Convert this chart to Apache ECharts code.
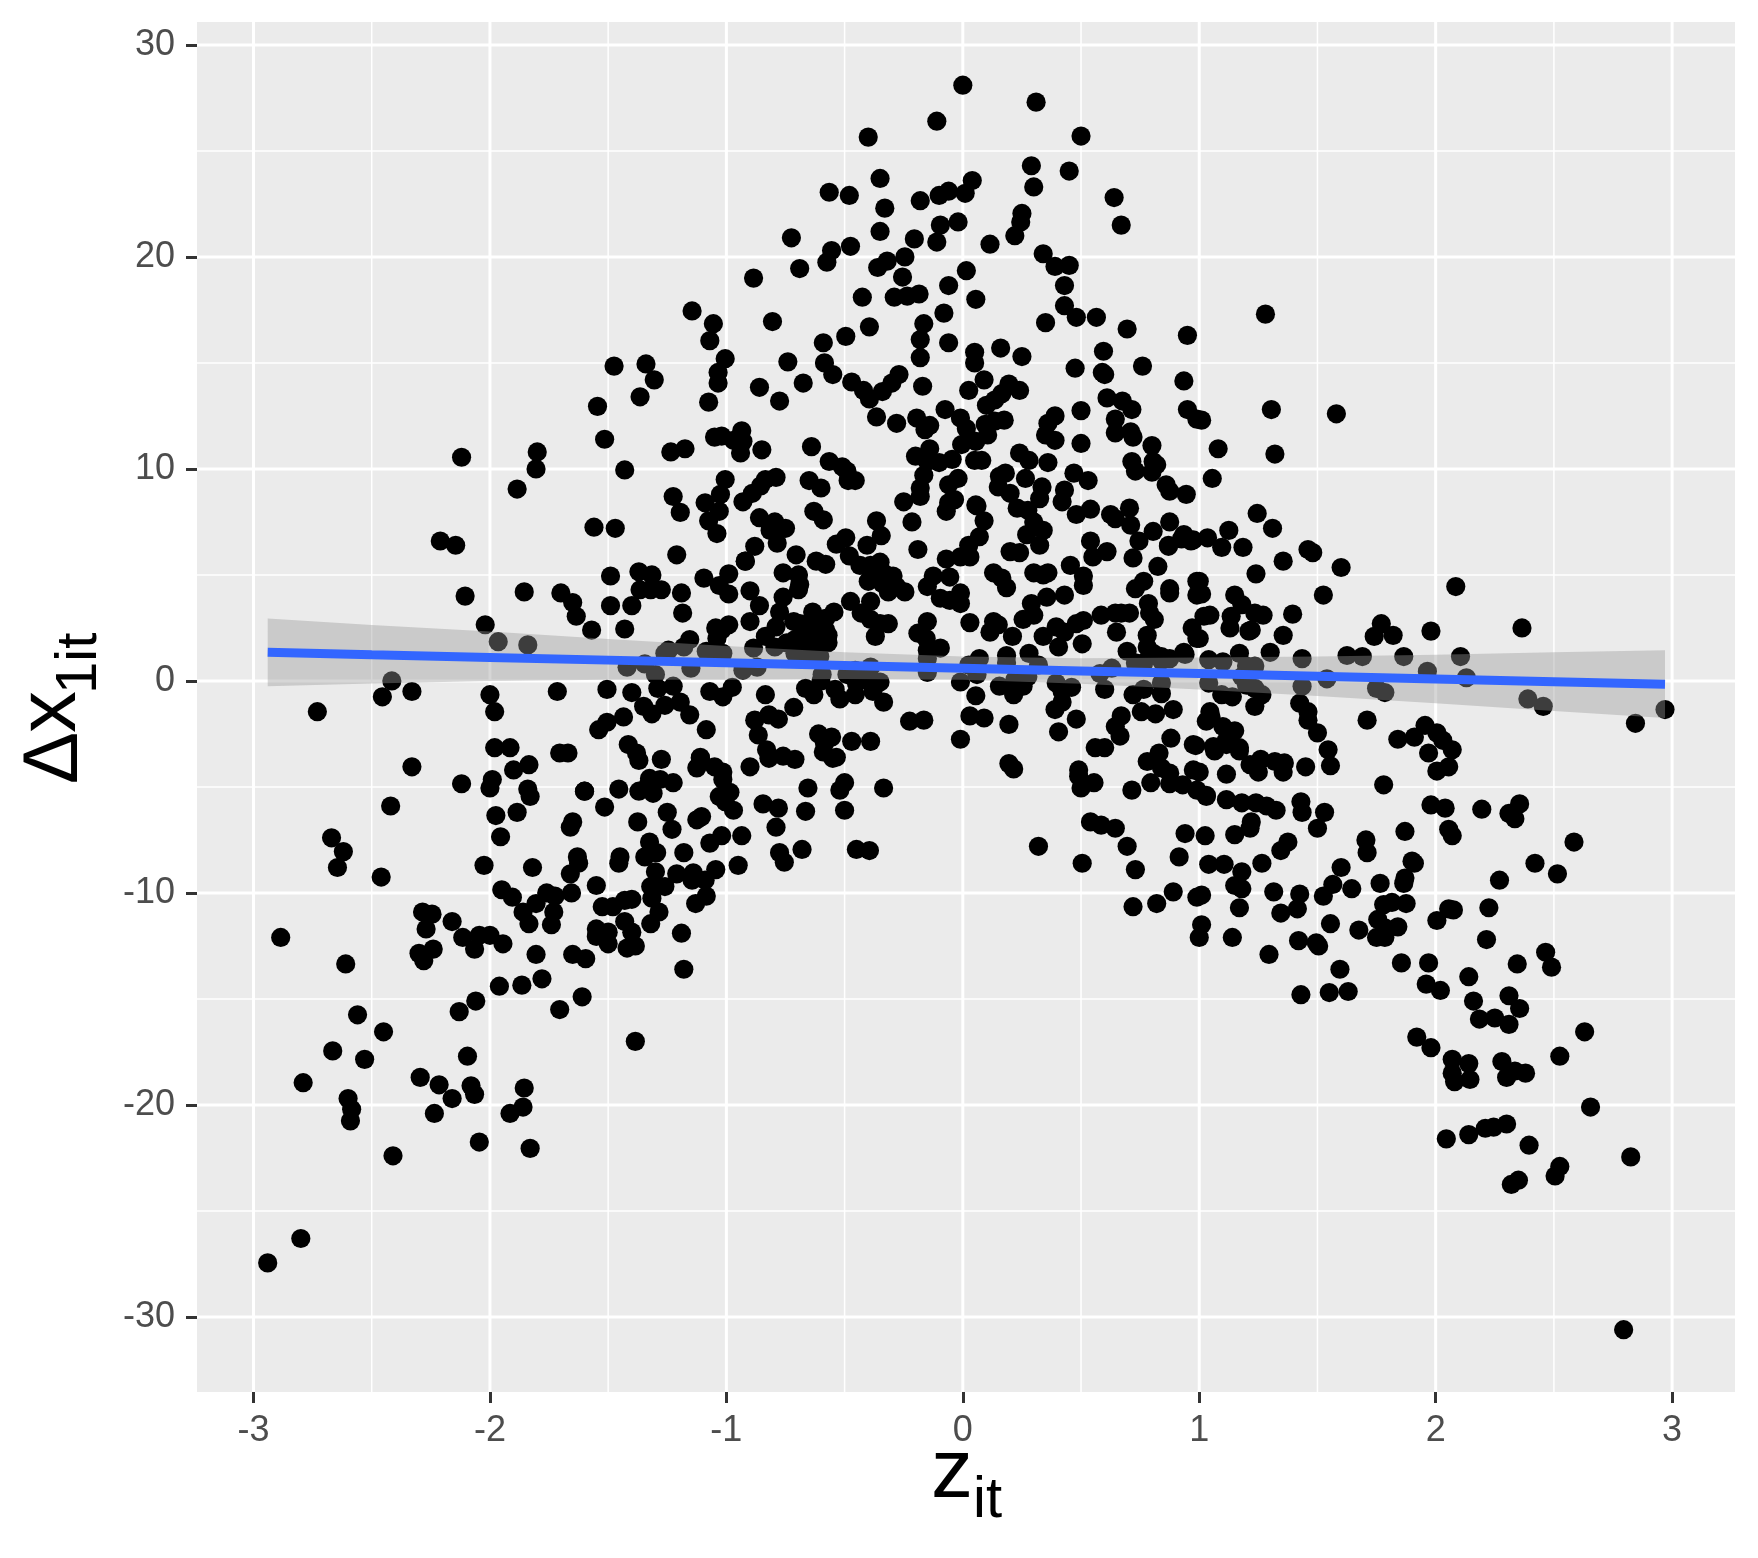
<!DOCTYPE html>
<html><head><meta charset="utf-8">
<script src="https://cdn.jsdelivr.net/npm/echarts@6/dist/echarts.min.js"></script>
<style>html,body{margin:0;padding:0;background:#fff}#c{width:1758px;height:1558px}</style></head>
<body><div id="c"></div>
<script>
const farLeft=[[-2.94,-27.45],[-2.8,-26.3],[-2.885,-12.1],[-2.73,-1.45],[-2.67,-7.4],[-2.62,-8.05],[-2.645,-8.8],[-2.46,-9.25],[-2.42,-5.9],[-2.455,-0.75],[-2.415,0],[-2.33,-0.5],[-2.33,-4.05],[-2.21,6.6],[-2.145,6.4],[-2.12,10.55],[-2.105,4],[-2.02,2.65],[-1.965,1.85],[-1.84,1.7],[-2.12,-4.85],[-2,-0.65],[-1.98,-1.45],[-1.98,-3.15],[-1.915,-3.15],[-1.99,-4.65],[-2,-5.05],[-1.975,-6.35],[-1.955,-7.35],[-1.9,-4.2],[-1.835,-3.95],[-1.84,-5.1],[-1.83,-5.45],[-1.885,-6.2],[-2.025,-8.7],[-1.82,-8.8],[-1.95,-9.85],[-1.905,-10.2],[-2.16,-11.35],[-2.285,-10.9],[-2.245,-11],[-2.27,-11.7],[-2.115,-12.1],[-2.065,-12.65],[-2.045,-12],[-2,-12],[-1.945,-12.4],[-2.3,-12.85],[-2.24,-12.65],[-2.28,-13.2],[-2.13,-15.6],[-2.06,-15.1],[-1.96,-14.4],[-1.865,-14.35],[-1.805,-12.9],[-1.78,-14.05],[-1.705,-15.5],[-1.61,-14.9],[-1.595,-13.1],[-1.65,-12.9],[-1.86,-10.9],[-1.835,-11.45],[-1.805,-10.5],[-1.76,-10],[-1.725,-10.15],[-1.74,-11.5],[-1.73,-10.9],[-1.655,-10],[-1.66,-9.1],[-1.625,-8.6],[-1.63,-8.3],[-1.66,-6.9],[-1.65,-6.65],[-1.6,-5.2],[-1.705,-3.4],[-1.67,-3.4],[-1.715,-0.5],[-2.61,-13.35],[-2.56,-15.75],[-2.45,-16.55],[-2.665,-17.45],[-2.53,-17.85],[-2.79,-18.95],[-2.6,-19.7],[-2.585,-20.2],[-2.59,-20.75],[-2.41,-22.4],[-2.295,-18.7],[-2.215,-19.05],[-2.16,-19.7],[-2.235,-20.4],[-2.095,-17.7],[-2.08,-19.1],[-2.065,-19.5],[-2.045,-21.75],[-1.915,-20.4],[-1.86,-20.1],[-1.855,-19.2],[-1.83,-22.05],[-1.385,-17]];
const upperLeft=[[-1.8,10.8],[-1.805,10],[-1.885,9.05],[-1.855,4.2],[-1.7,4.15],[-1.65,3.7],[-1.635,3.05],[-1.57,2.4],[-1.56,7.25],[-1.47,7.2],[-1.43,9.95],[-1.515,11.4],[-1.545,12.95],[-1.475,14.85],[-1.34,14.95],[-1.365,13.4],[-1.305,14.2],[-1.49,3.55],[-1.49,4.95],[-1.4,3.55],[-1.43,2.45],[-1.37,5.15],[-1.315,5],[-1.365,4.3],[-1.32,4.3],[-1.275,4.3],[-1.19,4.15],[-1.185,3.2],[-1.21,5.95],[-1.225,8.7],[-1.195,7.95],[-1.235,10.8],[-1.175,10.95],[-1.145,17.45],[-1.055,16.85],[-1.07,16.05],[-1.005,15.2],[-1.035,14.55],[-1.035,14.05],[-1.075,13.15],[-1.05,11.5],[-1.02,11.55],[-0.97,11.35],[-0.935,11.8],[-0.93,11.3],[-0.94,10.75],[-1.005,9.5],[-1.025,8.8],[-1.09,8.4],[-1.075,7.55],[-1.04,6.95],[-1.03,8],[-1.03,4.5],[-0.99,4.1],[-0.99,5.05],[-1.095,4.85],[-0.92,5.65],[-0.93,8.45],[-0.89,8.85],[-0.855,9.2],[-0.835,9.5],[-0.79,9.6],[-0.85,10.9],[-0.885,19],[-0.805,16.95],[-0.74,15.05],[-0.86,13.85],[-0.775,13.2],[-0.675,14.05],[-0.585,15],[-0.55,14.45],[-0.725,20.9],[-0.69,19.45]];
const topCentre=[[0,28.1],[0.31,27.3],[-0.11,26.4],[-0.4,25.65],[0.5,25.7],[0.29,24.3],[0.45,24.05],[-0.35,23.7],[0.04,23.6],[0.3,23.3],[-0.565,23.05],[-0.48,22.9],[0.01,23],[-0.06,23.1],[-0.1,22.9],[-0.18,22.65],[-0.33,22.3],[0.64,22.8],[0.25,22.05],[0.245,21.65],[-0.02,21.65],[-0.095,21.5],[0.67,21.5],[-0.35,21.2],[0.22,21],[-0.11,20.7],[-0.205,20.85],[0.115,20.6],[-0.555,20.3],[-0.575,19.75],[-0.475,20.5],[0.34,20.15],[0.39,19.55],[0.45,19.6],[-0.245,20],[-0.32,19.8],[-0.36,19.5],[-0.255,19.05],[0.015,19.35],[-0.06,18.65],[0.43,18.65],[-0.425,18.1],[-0.29,18.1],[-0.235,18.15],[-0.185,18.25],[0.055,18],[0.43,17.7],[0.48,17.15],[0.565,17.15],[-0.08,17.35],[0.35,16.9],[-0.165,16.85],[0.695,16.6],[-0.395,16.7],[-0.495,16.25],[-0.18,16.1],[0.95,16.3],[-0.59,15.95],[-0.06,15.95],[0.05,15.5],[0.16,15.7],[0.25,15.3],[-0.18,15.25],[0.05,15],[0.595,15.55],[0.76,14.85],[0.475,14.75],[0.59,14.55],[0.6,14.45],[0.935,14.15],[-0.27,14.45],[-0.17,13.9],[-0.3,14.05],[-0.34,13.65],[-0.47,14.1],[-0.42,13.7],[-0.395,13.3],[0.09,14.2],[0.025,13.7],[0.195,14],[0.24,13.7],[0.165,13.55],[0.135,13.25],[0.1,13],[0.61,13.35],[0.675,13.2],[0.715,12.8],[0.5,12.75],[0.95,12.8],[0.99,12.35],[0.39,12.5],[0.36,12.15],[-0.075,12.8],[-0.365,12.45],[-0.28,12.15],[-0.195,12.4],[-0.14,12.05],[-0.16,11.85],[-0.01,12.4],[0.175,12.3],[0.135,12.25],[0.095,12.1],[0.015,11.9],[0.645,12.35],[0.71,11.75],[0.645,11.7],[0.72,11.5],[0.35,11.6],[0.39,11.35],[0.5,11.2],[0.8,11.1],[0.105,11.6],[0.055,11.3],[-0.005,11.15],[-0.64,11.05],[-0.14,10.95],[-0.2,10.6],[0.715,10.35],[0.805,10.35],[0.8,9.85],[0.73,9.9],[0.82,10.2],[0.24,10.75],[0.28,10.4],[0.36,10.3],[-0.045,10.45],[-0.1,10.3],[-0.15,10.35],[0.05,10.4],[0.08,10.4],[-0.565,10.35],[-0.51,10.1],[-0.49,9.9],[-0.455,9.45],[-0.485,9.45],[-0.65,9.45],[-0.6,9.1],[0.18,9.8],[0.15,9.15],[0.2,8.85],[0.155,9.65],[0.265,9.55],[0.335,9.15],[0.325,8.6],[0.47,9.8],[0.53,9.45],[0.43,9],[0.42,8.45],[0.86,9.25],[0.875,8.95],[0.945,8.8],[-0.165,9.7],[-0.18,9.1],[-0.25,8.45],[-0.18,8.7],[-0.02,9.55],[-0.06,9.25],[-0.035,8.55],[-0.06,8.4],[0.055,8.3]];
const middleLeft=[[0.06,8.25],[0.09,7.55],[-0.07,8],[-0.215,7.5],[0.07,6.8],[0.025,6.4],[0.03,5.85],[-0.01,5.85],[-0.07,5.75],[-0.19,6.2],[-0.365,7.55],[-0.345,6.85],[-0.405,6.4],[-0.495,6.75],[-0.535,6.45],[-0.48,5.9],[-0.435,5.45],[-0.35,5.6],[-0.39,5.45],[-0.385,5.05],[-0.33,5.05],[-0.295,4.95],[-0.35,4.85],[-0.4,4.7],[-0.315,4.2],[-0.245,4.2],[-0.28,4.45],[-0.34,4.6],[-0.63,8],[-0.59,7.6],[-0.86,7.7],[-0.795,7.5],[-0.75,7.2],[-0.815,7.1],[-0.785,6.5],[-0.88,6.35],[-0.92,5.65],[-0.705,5.95],[-0.62,5.65],[-0.58,5.5],[-0.76,5.1],[-0.695,5],[-0.69,4.55],[-0.695,4.3],[-0.9,4.25],[-0.76,3.95],[-0.86,3.55],[-0.775,3.25],[-0.9,2.8],[-0.99,2.65],[-1.045,2.5],[-1.02,2.4],[-1.04,2],[-0.715,2.8],[-0.635,3.25],[-0.545,3.25],[-0.58,2.95],[-0.69,2.7],[-0.63,2.65],[-0.58,2.4],[-0.625,2.15],[-0.57,2.15],[-0.665,2.15],[-0.71,1.95],[-0.745,1.8],[-0.57,1.8],[-0.62,1.75],[-0.66,1.85],[-0.79,2.55],[-0.835,2.1],[-0.885,1.55],[-0.795,1.6],[-1.05,1.4],[-1.085,1.4],[-1.015,1.3],[-0.71,1.3],[-0.66,1.15],[-0.605,1.15],[-0.93,0.5],[-0.87,0.65],[-0.595,0.3],[-0.6,0],[-0.475,3.75],[-0.39,3.75],[-0.43,3.2],[-0.39,2.9],[-0.37,2.1],[-0.315,2.7],[-0.35,2.7],[-0.15,2.8],[-0.19,2.25],[-0.155,2],[-0.095,1.55],[-0.15,1.45],[-0.15,0.4],[-0.15,1.05],[-0.125,4.95],[-0.15,4.45],[-0.055,4.9],[-0.01,4.15],[-0.095,3.9],[-0.055,3.8],[-0.01,3.65],[0.03,2.75],[-1.155,1.95],[-1.18,1.6],[-1.245,1.45],[-1.26,1.3],[-1.42,0.65],[-1.345,0.8],[-1.3,0.3],[-1.15,0.6],[-1.29,-0.35],[-1.225,-0.25],[-1.35,-1.2],[-1.315,-1.55],[-1.26,-1.15],[-1.195,-1],[-1.155,-1.6],[-1.435,-1.7],[-1.505,-1.95],[-1.54,-2.3],[-1.415,-3],[-1.505,-0.4],[-1.4,-0.55],[-1.07,-0.5],[-1.015,-0.75],[-0.975,-0.3]];
const middleRight=[[0.13,5.1],[0.165,4.85],[0.185,4.4],[0.13,2.8],[0.15,2.65],[0.115,2.3],[0.21,2.1],[0.07,1.05],[0.025,0.75],[0.06,0.3],[-0.01,-0.05],[0.185,1.2],[0.185,0.85],[0.155,-0.25],[0.215,-0.65],[0.255,-0.25],[0.22,0.05],[0.28,1.3],[0.32,0.75],[0.275,0.2],[0.3,3.1],[0.255,2.9],[0.29,3.65],[0.355,3.95],[0.43,4.05],[0.3,5.1],[0.34,5],[0.36,5.1],[0.455,5.45],[0.51,4.95],[0.51,4.5],[0.34,2.1],[0.395,2.55],[0.43,2.3],[0.405,1.6],[0.48,2.7],[0.51,2.85],[0.505,1.75],[0.585,3.1],[0.645,3.2],[0.67,3.2],[0.705,3.2],[0.65,2.3],[0.785,3.65],[0.79,3.2],[0.81,2.9],[0.78,2.15],[0.78,1.6],[0.84,1.15],[0.94,1.25],[0.695,1.4],[0.73,0.85],[0.765,0.85],[0.63,0.6],[0.58,0.35],[0.6,-0.4],[0.72,-0.65],[0.84,-0.1],[0.84,-0.6],[0.765,-0.4],[0.755,-1.45],[0.815,-1.55],[0.89,-1.35],[0.67,-1.65],[0.645,-2.15],[0.665,-2.6],[0.88,-2.7],[0.56,-3.15],[0.6,-3.15],[0.405,-2.4],[0.48,-1.8],[0.39,-1.35],[0.42,-1],[0.42,-0.5],[0.395,-0.1],[0.46,-0.3],[0.48,7.85],[0.54,8.1],[0.625,7.85],[0.645,7.65],[0.705,8.15],[0.71,7.35],[0.745,6.6],[0.805,7.05],[0.875,7.5],[0.87,6.4],[0.935,6.9],[0.975,6.65],[0.72,5.8],[0.825,5.4],[0.54,6.6],[0.61,6.1],[0.55,5.85],[0.765,4.7],[0.73,4.35],[0.875,4.35],[0.875,4.15],[0.99,4.7],[0.99,4.05],[0.97,2.5],[0.99,2],[0.23,8.15],[0.275,8.05],[0.3,7.5],[0.34,7.1],[0.27,6.9],[0.325,6.4],[0.2,6.1],[0.24,6.05],[0.87,6.35],[0.925,6.7],[0.965,6.6],[1.02,3.05],[0.84,0.95],[0.805,1.3],[0.875,1.05],[0.935,1.35]];
const lowerMiddle=[[-1.085,-2.3],[-0.835,-0.65],[-0.715,-1.25],[-0.82,-1.6],[-0.78,-1.8],[-0.88,-1.85],[-0.865,-2.55],[-0.83,-3.25],[-0.82,-3.65],[-0.76,-3.55],[-0.71,-3.7],[-0.9,-4.05],[-0.61,-2.5],[-0.555,-2.65],[-0.585,-2.95],[-0.59,-3.35],[-0.55,-3.65],[-0.535,-3.6],[-0.47,-2.85],[-0.39,-2.85],[-0.665,-0.35],[-0.63,-0.65],[-0.54,-0.4],[-0.52,-0.85],[-0.455,-0.65],[-0.45,-0.1],[-0.49,0.3],[-0.455,0.5],[-0.39,0.65],[-0.38,-0.5],[-0.335,-1],[-0.35,-0.05],[-0.405,0.05],[-1.11,-3.65],[-1.05,-4.05],[-1.015,-4.3],[-1.015,-4.65],[-0.985,-5.25],[-1.03,-5.45],[-1.005,-5.7],[-0.97,-6.1],[-0.845,-5.8],[-0.78,-6],[-0.655,-5.05],[-0.665,-6.15],[-0.5,-4.8],[-0.52,-5.15],[-0.335,-5.05],[-0.5,-6.1],[-0.79,-6.9],[-1.105,-6.4],[-1.02,-7.3],[-1.07,-7.65],[-0.935,-7.3],[-0.775,-8.1],[-0.755,-8.55],[-0.68,-7.95],[-0.95,-8.7],[-1.045,-8.9],[-1.09,-9.4],[-0.45,-7.95],[-0.395,-8],[-1.085,-10.15],[0.055,-0.7],[0.03,-1.65],[0.09,-1.75],[0.195,-2.05],[-0.01,-2.75],[-0.165,-1.85],[-0.225,-1.9],[0.195,-3.9],[0.215,-4.15],[0.49,-4.2],[0.49,-4.5],[0.555,-4.8],[0.5,-5.05],[0.715,-5.15],[0.795,-4.8],[0.78,-3.8],[0.83,-3.4],[0.84,-4.1],[0.875,-4.35],[0.875,-4.85],[0.93,-4.9],[0.975,-4.2],[0.99,-5.15],[0.975,-3],[0.54,-6.65],[0.585,-6.8],[0.645,-6.95],[0.695,-7.8],[0.94,-7.2],[0.915,-8.3],[0.73,-8.9],[0.505,-8.6],[0.32,-7.8],[0.89,-9.95],[0.72,-10.65],[0.82,-10.5],[0.99,-10.2]];
const lowerLeft=[[-1.6,-5.2],[-1.455,-5.1],[-1.515,-5.95],[-1.375,-6.65],[-1.455,-8.6],[-1.45,-8.3],[-1.325,-7.6],[-1.295,-8.1],[-1.345,-8.3],[-1.18,-8.1],[-1.25,-6.2],[-1.23,-7],[-1.325,-4.6],[-1.28,-4.65],[-1.225,-4.8],[-1.31,-5.3],[-1.37,-5.2],[-1.33,-4.9],[-1.275,-3.7],[-1.38,-3.4],[-1.37,-3.75],[-1.125,-4.1],[-1.11,-3.6],[-1.125,-6.55],[-1.19,-11.9],[-1.18,-13.6],[-1.13,-10.5],[-1.21,-9.1],[-1.145,-9.4],[-1.14,-9.05],[-1.3,-9],[-1.26,-9.7],[-1.32,-9.7],[-1.315,-10.25],[-1.285,-10.9],[-1.32,-11.45],[-1.55,-9.65],[-1.525,-10.65],[-1.48,-10.65],[-1.43,-10.35],[-1.4,-10.3],[-1.43,-11.35],[-1.4,-11.85],[-1.385,-12.5],[-1.42,-12.6],[-1.55,-11.7],[-1.5,-11.85],[-1.55,-12.05],[-1.5,-12.4]];
const upperRight=[[1.28,17.3],[1.305,12.8],[1.58,12.6],[1.01,12.3],[1.08,10.95],[1.32,10.7],[1.055,9.55],[1.245,7.9],[1.31,7.2],[1.125,7.1],[1.035,6.75],[1.095,6.3],[1.185,6.3],[1.355,5.65],[1.46,6.2],[1.48,6.05],[1.6,5.35],[1.24,5.05],[1,4.7],[1.01,4.1],[1.15,4.05],[1.18,3.6],[1.525,4.05],[1.395,3.15],[1.045,3.1],[1.135,3.05],[1.235,3.2],[1.27,3.1],[1.13,2.5],[1.21,2.35],[1.22,2.4],[1.355,2.15],[1,2],[1.17,1.3],[1.3,1.35],[1.04,1],[1.1,0.9],[1.435,1.05],[1.2,0.7],[1.235,0.7],[1.18,0.2],[1.2,-0.2],[1.54,0.1],[1.435,-0.25],[1.04,-0.1],[1.095,-0.65],[1.14,-0.75],[1.265,-0.65],[1.235,-0.35],[1.235,-1.2],[1.425,-1.05],[1.46,-1.45],[1.46,-1.85],[1.5,-2.45],[1.045,-1.45],[1.03,-1.9],[1.1,-2.15],[1.15,-2.35],[1.115,-2.8],[1.17,-3.15],[1.06,-3.1],[1.545,-3.25],[1.625,1.2],[1.69,1.15],[1.865,1.15],[1.77,2.7],[1.74,2.1],[1.82,2.15],[1.98,2.35],[2.085,4.45],[2.365,2.5],[2.105,1.15],[2.13,0.15],[1.965,0.45],[1.75,-0.35],[1.785,-0.55],[2.39,-0.85],[2.455,-1.2],[2.97,-1.35],[2.845,-2],[1.71,-1.85],[1.84,-2.75],[1.91,-2.65],[1.955,-2.1],[2.005,-2.45],[2.03,-2.8],[2.07,-3.25],[1.97,-3.4]];
const lowerRight=[[2.055,-4.05],[2.005,-4.25],[1.555,-4],[1.45,-4.05],[1.36,-3.87],[1.355,-4.3],[1.32,-3.8],[1.25,-4.3],[1.26,-3.7],[1.215,-3.95],[1.17,-3.3],[1.065,-3.3],[1.115,-3],[1.115,-4.4],[1,-4.3],[1.03,-5.4],[0.985,-3.05],[1.05,-1.7],[1.78,-4.9],[1.98,-5.85],[2.04,-6],[2.195,-6.05],[2.355,-5.8],[2.31,-6.25],[2.335,-6.5],[1.03,-5.45],[1.115,-5.6],[1.18,-5.75],[1.24,-5.75],[1.285,-5.9],[1.325,-6.1],[1.43,-5.7],[1.435,-6.2],[1.53,-6.2],[1.5,-6.95],[1.025,-7.3],[1.15,-7.25],[1.215,-6.95],[1.22,-6.65],[1.87,-7.1],[2.055,-7],[2.07,-7.3],[1.705,-7.5],[1.71,-8.1],[1.375,-7.6],[1.345,-8],[2.585,-7.6],[1.04,-8.65],[1.105,-8.65],[1.18,-9],[1.265,-8.6],[1.6,-8.8],[1.9,-8.5],[1.91,-8.6],[1.87,-9.3],[1.865,-9.55],[1.565,-9.6],[1.645,-9.8],[1.765,-9.55],[2.27,-9.4],[2.42,-8.6],[2.515,-9.1],[1.15,-9.65],[1.18,-9.8],[1.315,-9.95],[1.425,-10.05],[1.415,-10.75],[1.525,-10.15],[1.01,-10.1],[1.17,-10.7],[1.345,-10.95],[1.78,-10.55],[1.815,-10.45],[1.875,-10.5],[2.075,-10.8],[2.055,-10.75],[2.005,-11.3],[2.225,-10.7],[1.755,-11.25],[1.84,-11.6],[1.785,-11.65],[1.75,-12.1],[1.785,-12.1],[1.675,-11.75],[1.555,-11.45],[1.01,-11.5],[1,-12.1],[1.14,-12.1],[1.42,-12.25],[1.495,-12.35],[1.505,-12.5],[1.295,-12.9],[2.215,-12.2],[2.465,-12.8],[2.49,-13.5],[2.345,-13.35],[1.855,-13.3],[1.97,-13.3],[1.595,-13.6],[2.14,-13.95],[1.96,-14.3],[2.02,-14.6],[1.43,-14.8],[1.55,-14.7],[1.63,-14.65],[2.16,-15.1],[2.31,-14.85],[2.355,-15.45],[2.185,-15.95],[2.25,-15.9],[2.31,-16.2],[2.63,-16.55],[1.92,-16.8],[1.98,-17.3],[2.525,-17.7],[2.07,-17.85],[2.14,-18.05],[2.07,-18.5],[2.08,-18.9],[2.145,-18.8],[2.28,-17.95],[2.335,-18.4],[2.38,-18.5],[2.3,-18.7],[2.655,-20.1],[2.3,-20.9],[2.245,-21.05],[2.21,-21.1],[2.14,-21.4],[2.045,-21.6],[2.395,-21.9],[2.825,-22.45],[2.525,-22.9],[2.505,-23.35],[2.35,-23.55],[2.32,-23.75],[2.795,-30.6]];

const smoothZ=[-2.94,-2.5,-2,-1.5,-1,-0.5,0,0.5,1,1.5,2,2.5,2.97];
const smoothFit=[1.35,1.235,1.108,0.981,0.854,0.727,0.6,0.473,0.346,0.219,0.092,-0.035,-0.154];
const smoothLow=[-0.25,-0.12,0,0.05,0.06,0.09,0.05,-0.13,-0.4,-0.71,-1.05,-1.415,-1.75];
const smoothHigh=[2.95,2.64,2.33,1.98,1.65,1.35,1.15,1.07,1.1,1.15,1.23,1.35,1.45];

const majorX=[-3,-2,-1,0,1,2,3];
const minorX=[-2.5,-1.5,-0.5,0.5,1.5,2.5];
const majorY=[-30,-20,-10,0,10,20,30];
const minorY=[-25,-15,-5,5,15,25];
const xMin=-3.239,xMax=3.266,yMin=-33.54,yMax=31.08;

const points=[].concat(farLeft,upperLeft,topCentre,middleLeft,middleRight,lowerMiddle,lowerLeft,upperRight,lowerRight);
const ribbon=smoothZ.map((z,i)=>[z,smoothLow[i],smoothHigh[i]]);
const gridRows=[].concat(
  majorX.map(v=>['x',v,3]),minorX.map(v=>['x',v,1.5]),
  majorY.map(v=>['y',v,3]),minorY.map(v=>['y',v,1.5]));

const font='"Liberation Sans", Arial, sans-serif';
const chart=echarts.init(document.getElementById('c'),null,{renderer:'canvas'});
function titleText(x,y,text,size,rot){
  return {type:'text',x:x,y:y,rotation:rot||0,silent:true,
    style:{text:text,fill:'#000',font:size+'px '+font,textAlign:'left',textVerticalAlign:'bottom',verticalAlign:'bottom'}};
}
const axisCommon={type:'value',
  axisLine:{show:false,onZero:false},splitLine:{show:false},minorSplitLine:{show:false},
  axisTick:{show:true,length:11,lineStyle:{color:'#333333',width:3}}};
chart.setOption({
  animation:false,backgroundColor:'#ffffff',
  grid:{left:197,right:23,top:22,bottom:166,show:true,backgroundColor:'#EBEBEB',borderWidth:0},
  xAxis:Object.assign({},axisCommon,{min:xMin,max:xMax,
    axisTick:Object.assign({},axisCommon.axisTick,{customValues:majorX}),
    axisLabel:{customValues:majorX,showMinLabel:true,showMaxLabel:true,color:'#4D4D4D',fontSize:36,fontFamily:font,margin:21,formatter:v=>String(v)}}),
  yAxis:Object.assign({},axisCommon,{min:yMin,max:yMax,
    axisTick:Object.assign({},axisCommon.axisTick,{customValues:majorY}),
    axisLabel:{customValues:majorY,showMinLabel:true,showMaxLabel:true,color:'#4D4D4D',fontSize:36,fontFamily:font,margin:22,padding:[4,0,0,0],formatter:v=>String(v)}}),
  series:[
    {type:'custom',name:'grid',coordinateSystem:'cartesian2d',silent:true,z:1,clip:true,
      encode:{x:1,y:1},data:gridRows.map(r=>({value:[r[1],r[1]]})),
      renderItem:function(p,api){
        const r=gridRows[p.dataIndex];let a,b;
        if(r[0]==='x'){a=api.coord([r[1],yMin]);b=api.coord([r[1],yMax]);}
        else{a=api.coord([xMin,r[1]]);b=api.coord([xMax,r[1]]);}
        return {type:'line',shape:{x1:a[0],y1:a[1],x2:b[0],y2:b[1]},style:{stroke:'#ffffff',lineWidth:r[2],fill:null}};
      }},
    {type:'scatter',name:'points',data:points,symbol:'circle',symbolSize:19.2,z:3,
      itemStyle:{color:'#000000',opacity:1},silent:true},
    {type:'custom',name:'band',coordinateSystem:'cartesian2d',silent:true,z:4,
      encode:{x:0,y:[1,2]},data:ribbon,
      renderItem:function(p,api){
        if(p.dataIndex!==0)return null;
        const top=ribbon.map(r=>api.coord([r[0],r[2]]));
        const bot=ribbon.map(r=>api.coord([r[0],r[1]])).reverse();
        return {type:'polygon',shape:{points:top.concat(bot)},style:{fill:'#999999',opacity:0.4}};
      }},
    {type:'line',name:'fit',data:smoothZ.map((z,i)=>[z,smoothFit[i]]),showSymbol:false,z:5,silent:true,
      lineStyle:{color:'#3366FF',width:9,cap:'butt'}}
  ],
  graphic:[
    titleText(931,1516,'z',84),
    titleText(973,1530,'it',58),
    titleText(94,784,'Δ',78,Math.PI/2),
    titleText(94,733,'x',84,Math.PI/2),
    titleText(109,694,'1it',58,Math.PI/2)
  ]
});
</script></body></html>
